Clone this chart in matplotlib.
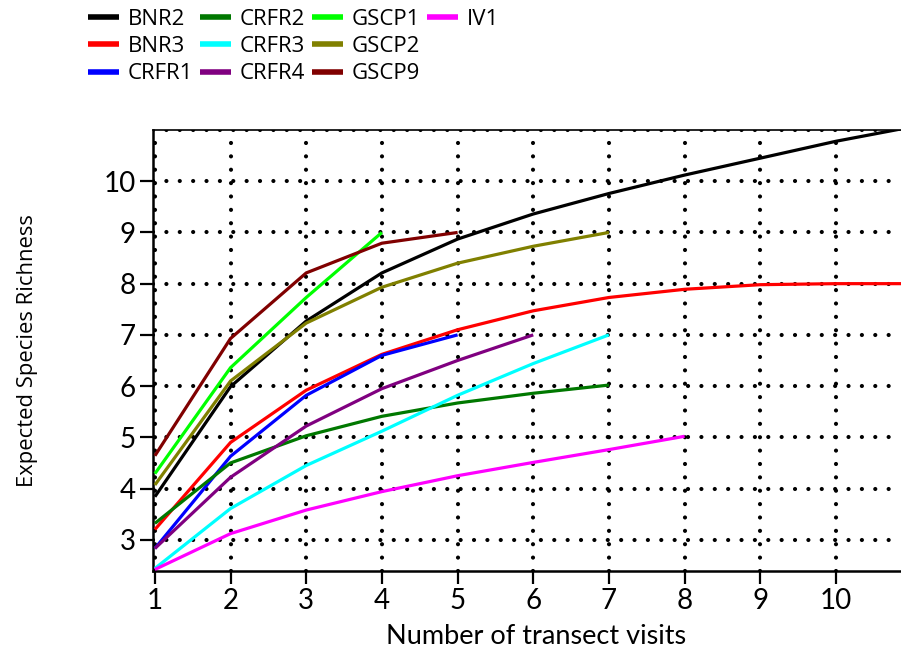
import matplotlib
matplotlib.use("Agg")
import matplotlib.pyplot as plt
from matplotlib import font_manager
from matplotlib.lines import Line2D

# expected species richness per site, by number of transect visits
bnr2 = [3.84, 5.99, 7.27, 8.21, 8.87, 9.36, 9.76, 10.12, 10.45, 10.78, 11.06]
bnr3 = [3.20, 4.90, 5.92, 6.62, 7.10, 7.47, 7.73, 7.89, 7.98, 8.00, 8.00]
crfr1 = [2.83, 4.63, 5.82, 6.60, 7.00]
crfr2 = [3.32, 4.50, 5.03, 5.41, 5.67, 5.86, 6.02]
crfr3 = [2.44, 3.61, 4.45, 5.12, 5.82, 6.44, 7.00]
crfr4 = [2.83, 4.22, 5.22, 5.95, 6.50, 7.00]
gscp1 = [4.29, 6.36, 7.73, 9.00]
gscp2 = [4.07, 6.10, 7.23, 7.93, 8.40, 8.73, 9.00]
gscp9 = [4.64, 6.93, 8.21, 8.79, 9.00]
iv1 = [2.42, 3.12, 3.58, 3.94, 4.25, 4.51, 4.76, 5.02]

series = [
    ("BNR2", bnr2, "#000000"),
    ("BNR3", bnr3, "#ff0000"),
    ("CRFR1", crfr1, "#0000ff"),
    ("CRFR2", crfr2, "#007800"),
    ("CRFR3", crfr3, "#00ffff"),
    ("CRFR4", crfr4, "#800080"),
    ("GSCP1", gscp1, "#00ff00"),
    ("GSCP2", gscp2, "#808000"),
    ("GSCP9", gscp9, "#800000"),
    ("IV1", iv1, "#ff00ff"),
]

x_ticks = list(range(1, 11))
y_ticks = list(range(3, 11))

# a narrow face is closer to the squeezed y label, if there is one
installed = {f.name for f in font_manager.fontManager.ttflist}
ylabel_font = "Liberation Sans Narrow" if "Liberation Sans Narrow" in installed else "Open Sans"

plt.rcParams["font.family"] = ["Lato", "DejaVu Sans"]

fig = plt.figure(figsize=(9.01, 6.5), dpi=100)
ax = fig.add_axes([153 / 901, 1 - 571 / 650, (901 - 153) / 901, (571 - 130) / 650])

for name, vals, color in series:
    ax.plot(range(1, len(vals) + 1), vals, color=color, lw=2.3, label=name,
            solid_capstyle="butt", zorder=3)

# dotted grid with round dots
grid_kw = dict(color="black", lw=3.0, linestyle=(0, (0.01, 3.2)),
               dash_capstyle="round", zorder=1)
for xv in x_ticks:
    ax.axvline(xv, **grid_kw)
for yv in y_ticks + [11]:
    ax.axhline(yv, **grid_kw)

ax.set_xlim(0.975, 10.86)
ax.set_ylim(2.39, 11.0)
ax.set_xticks(x_ticks)
ax.set_yticks(y_ticks)
ax.tick_params(axis="both", direction="out", length=9.5, width=1.6, labelsize=20,
               color="black", pad=3)
ax.spines["right"].set_visible(False)
for s in ["left", "bottom"]:
    ax.spines[s].set_linewidth(1.8)
ax.spines["top"].set_linewidth(1.2)

ax.set_xlabel("Number of transect visits", fontsize=19.5)
ax.xaxis.set_label_coords((536 - 153) / 748, -(624 - 571) / 441)
ax.set_ylabel("Expected Species Richness", fontsize=15.8,
              family=[ylabel_font, "DejaVu Sans"])
ax.yaxis.set_label_coords(-(155 - 40) / 748, 0.5)

handles, labels = ax.get_legend_handles_labels()
blank = Line2D([], [], color="none")
handles = handles + [blank, blank]
labels = labels + ["", ""]
leg = fig.legend(handles, labels, ncol=4, loc="upper left",
                 bbox_to_anchor=(88 / 901, 1 - 9 / 650),
                 frameon=False, handlelength=1.4, handletextpad=0.4,
                 columnspacing=0.3, labelspacing=0.28, borderpad=0, borderaxespad=0,
                 prop={"family": ["Open Sans", "DejaVu Sans"], "size": 16})
for h in leg.legend_handles:
    h.set_linewidth(4)

fig.savefig("out.png", dpi=100)
